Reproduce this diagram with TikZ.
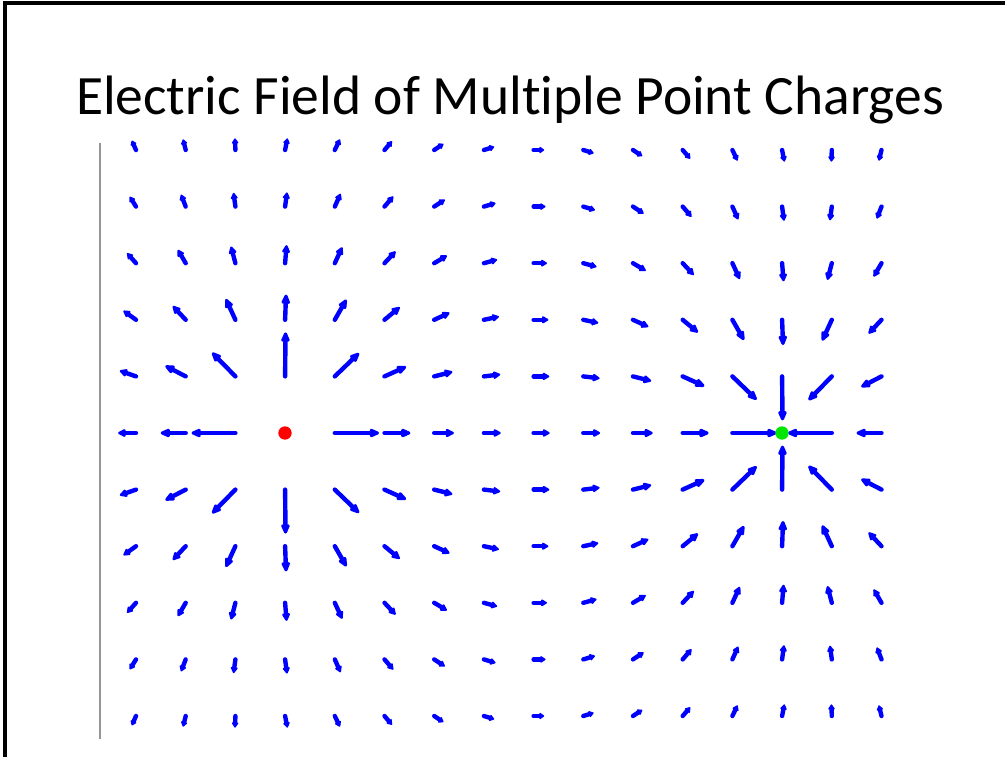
\documentclass[tikz,border=0pt]{standalone}
\usepackage{fontspec}
\setmainfont{Carlito}[Ligatures=NoCommon]
\usetikzlibrary{arrows.meta}
\definecolor{fieldblue}{RGB}{0, 0, 255}
\definecolor{chargered}{RGB}{255, 0, 0}
\definecolor{chargegreen}{RGB}{0, 230, 0}
\definecolor{axisgray}{RGB}{150, 150, 150}

\begin{document}
\begin{tikzpicture}[x=0.02cm, y=-0.02cm,
    fieldarrow/.style={fieldblue, line width=2.5pt, line cap=round},
    charge/.style={circle, inner sep=0pt, minimum size=7.6pt}]
  \useasboundingbox (0,0) rectangle (1005,757);
  \fill[white] (0,0) rectangle (1005,757);
  \draw[black, line width=2.2pt] (5,757) -- (5,3) -- (1005,3);
  \node[anchor=base, inner sep=0pt, font=\fontsize{31.6}{36}\selectfont] (title) at (510,115) {Electric Field of Multiple Point Charges};
  \draw[axisgray, line width=1.7pt] (100,143) -- (100,739);

  % field of +q at column 3 and -q at column 13, row 5
  \foreach \i in {0,...,15} {
    \foreach \j in {0,...,10} {
      \pgfmathtruncatemacro{\oncharge}{(\j==5)&&((\i==3)||(\i==13))}
      \ifnum\oncharge=0
        \pgfmathsetmacro{\rx}{\i-3}
        \pgfmathsetmacro{\gx}{\i-13}
        \pgfmathsetmacro{\ry}{\j-5}
        \pgfmathsetmacro{\rr}{\rx*\rx+\ry*\ry}
        \pgfmathsetmacro{\gg}{\gx*\gx+\ry*\ry}
        \pgfmathsetmacro{\dr}{\rr*sqrt(\rr)}
        \pgfmathsetmacro{\dg}{\gg*sqrt(\gg)}
        \pgfmathsetmacro{\ex}{\rx/\dr-\gx/\dg}
        \pgfmathsetmacro{\ey}{\ry/\dr-\ry/\dg}
        \pgfmathsetmacro{\emag}{sqrt(\ex*\ex+\ey*\ey)}
        \pgfmathsetmacro{\len}{44*\emag^0.4}
        \pgfmathsetmacro{\hpx}{min(12,0.5*\len)}
        \pgfmathsetmacro{\hl}{0.5669*\hpx}
        \pgfmathsetmacro{\hw}{0.5669*min(9,5+0.4*\hpx)}
        \pgfmathsetmacro{\dx}{\len*\ex/\emag}
        \pgfmathsetmacro{\dy}{\len*\ey/\emag}
        \draw[fieldarrow, -{Triangle[length=\hl pt, width=\hw pt, round]}] (136+49.7*\i, 150+56.6*\j) -- ++(\dx,\dy);
      \fi
    }
  }

  \node[charge, fill=chargered] (poscharge) at (285,433) {};
  \node[charge, fill=chargegreen] (negcharge) at (782,433) {};
\end{tikzpicture}
\end{document}
